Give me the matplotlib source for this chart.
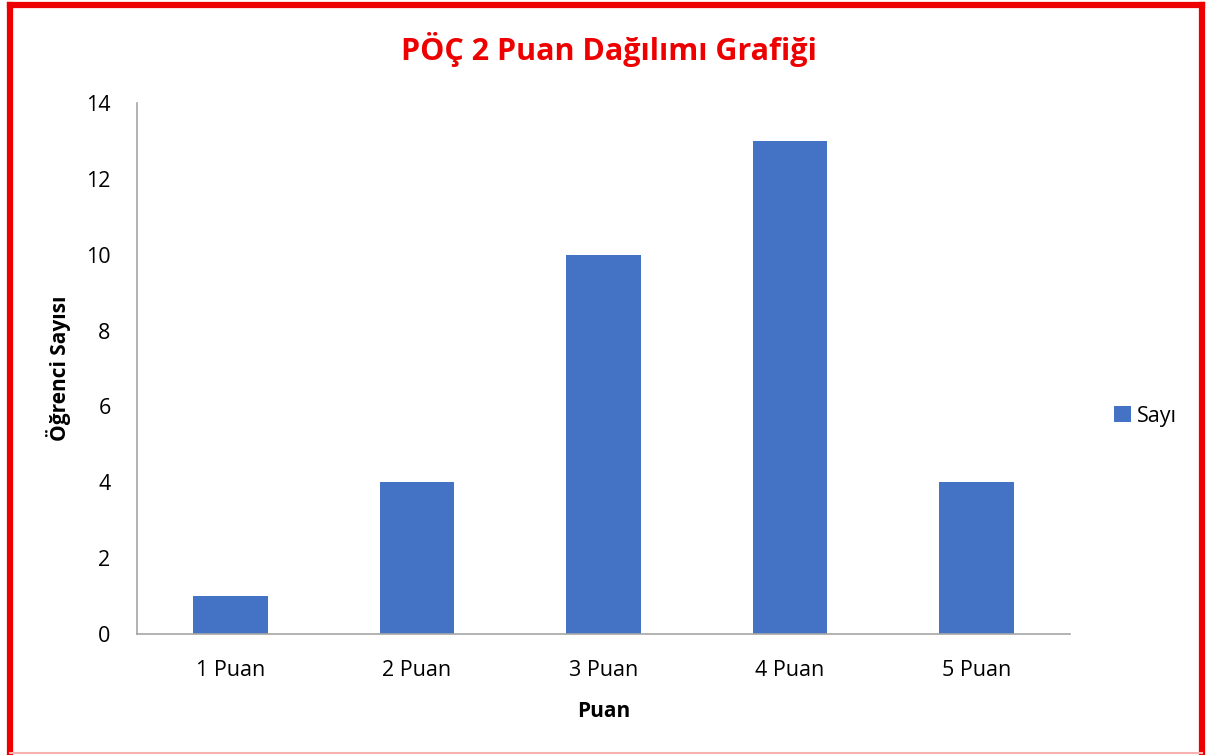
import matplotlib.pyplot as plt
from matplotlib.lines import Line2D

categories = ['1 Puan', '2 Puan', '3 Puan', '4 Puan', '5 Puan']
counts = [1, 4, 10, 13, 4]
yticks = [0, 2, 4, 6, 8, 10, 12, 14]

plt.rcParams['font.family'] = ['Open Sans', 'DejaVu Sans']

fig = plt.figure(figsize=(12.06, 7.55), dpi=100)
ax = fig.add_axes([0.1136, 0.1603, 0.7736, 0.7033])

x = range(len(categories))
ax.bar(x, counts, width=0.4, color='#4472C4', label='Sayı')

ax.set_xlim(-0.5, len(categories) - 0.5)
ax.set_ylim(0, 14)
ax.set_yticks(yticks)
ax.set_xticks(list(x))
ax.set_xticklabels(categories)
ax.tick_params(axis='both', length=0, labelsize=15.5)
ax.tick_params(axis='x', pad=19)
ax.tick_params(axis='y', pad=19)

for s in ['top', 'right']:
    ax.spines[s].set_visible(False)
for s in ['left', 'bottom']:
    ax.spines[s].set_color('#A6A6A6')
    ax.spines[s].set_linewidth(1.2)

ax.set_xlabel('Puan', fontsize=15, fontweight='bold', labelpad=14)
ax.set_ylabel('Öğrenci Sayısı', fontsize=15, fontweight='bold', labelpad=11)

fig.text(0.505, 0.935, 'PÖÇ 2 Puan Dağılımı Grafiği', ha='center', va='center',
         fontsize=22, fontweight='bold', color='#EE0000')

fig.legend(loc='center left', bbox_to_anchor=(0.908, 0.449), frameon=False,
           fontsize=15.5, handlelength=0.75, handleheight=0.75, handletextpad=0.3)

# frame: red on three sides, faint pink at the bottom
red = dict(color='#EE0000', linewidth=4.5, transform=fig.transFigure, solid_capstyle='projecting')
fig.lines.append(Line2D([0.0087, 0.0087], [0.004, 0.9935], **red))
fig.lines.append(Line2D([0.0087, 0.9965], [0.9935, 0.9935], **red))
fig.lines.append(Line2D([0.9965, 0.9965], [0.004, 0.9935], **red))
fig.lines.append(Line2D([0.0087, 0.9965], [0.003, 0.003], color='#F8B0B0',
                        linewidth=1.5, transform=fig.transFigure))

fig.savefig('out.png', dpi=100)
